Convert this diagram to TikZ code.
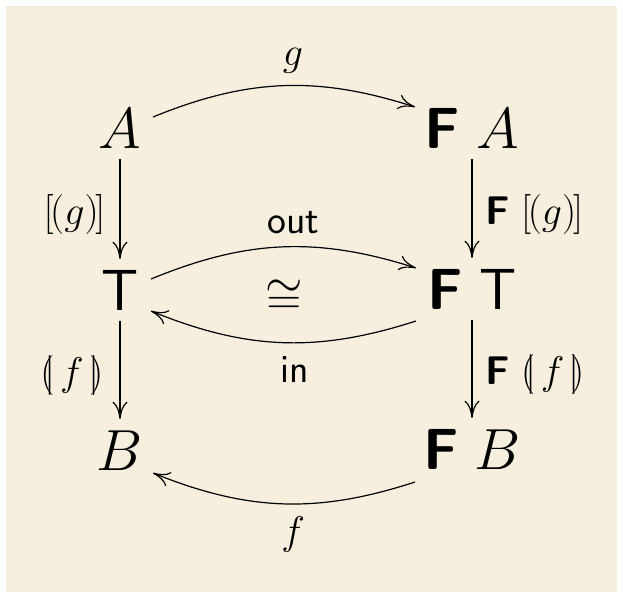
\RequirePackage{fix-cm}
\documentclass[tikz,border=0pt]{standalone}
\usetikzlibrary{arrows.meta}
\definecolor{paper}{RGB}{246,239,221}
\newcommand{\Fsf}{\textsf{\bfseries F}}
\newcommand{\lenL}{[\mkern-1.5mu(}
\newcommand{\lenR}{)\mkern-1.5mu]}
\newcommand{\banL}{(\mkern-4.5mu|\mkern2mu}
\newcommand{\banR}{\mkern2mu|\mkern-4.5mu)}
\begin{document}
\begin{tikzpicture}[x=1pt,y=1pt,
  obj/.style={inner sep=11pt, text height=40pt, text depth=0pt, font=\fontsize{58}{70}\selectfont},
  lab/.style={inner sep=0pt, font=\fontsize{40}{48}\selectfont},
  arr/.style={line width=1.2pt, -{Computer Modern Rightarrow[length=17pt,width=15pt,line width=1.2pt]}}]
\useasboundingbox (0,0) rectangle (623,-598);
\fill[white] (0,0) rectangle (623,-598);
\fill[paper] (6,-6) rectangle (617,-592);

\node[obj] (A)  at (120,-128) {$A$};
\node[obj] (T)  at (120,-290) {\textsf{T}};
\node[obj] (B)  at (120,-450) {$B$};
\node[obj] (FA) at (472,-128) {$\Fsf\;A$};
\node[obj] (FT) at (472,-289) {$\Fsf\;\textsf{T}$};
\node[obj] (FB) at (472,-449) {$\Fsf\;B$};
\node[inner sep=0pt, font=\fontsize{48}{56}\selectfont] (iso) at (284,-297) {$\cong$};

\draw[arr] ([shift={(33,11)}]A.center) to[bend left=20]
  node[lab, above=12pt, xshift=10pt] (lg) {$g$} ([shift={(-57,21)}]FA.center);
\draw[arr] ([shift={(31,11)}]T.center) to[bend left=20]
  node[lab, above=12pt, xshift=11pt] (lout) {\textsf{out}} ([shift={(-56,21)}]FT.center);
\draw[arr] ([shift={(-56,-32)}]FT.center) to[bend left=20]
  node[lab, below=13pt, xshift=12pt] (lin) {\textsf{in}} ([shift={(31,-21)}]T.center);
\draw[arr] ([shift={(-57,-33)}]FB.center) to[bend left=20]
  node[lab, below=12pt, xshift=10pt] (lf) {$f$} ([shift={(33,-23)}]B.center);

\draw[arr] (A) -- node[lab, pos=0.56, left=14pt] (lana) {$\lenL g\lenR$} (T);
\draw[arr] (T) -- node[lab, pos=0.56, left=16pt] (lcata) {$\banL f\banR$} (B);
\draw[arr] (FA) -- node[lab, pos=0.56, right=13pt] (lFana) {$\Fsf\;\lenL g\lenR$} (FT);
\draw[arr] (FT) -- node[lab, pos=0.56, right=13pt] (lFcata) {$\Fsf\;\banL f\banR$} (FB);
\end{tikzpicture}
\end{document}
